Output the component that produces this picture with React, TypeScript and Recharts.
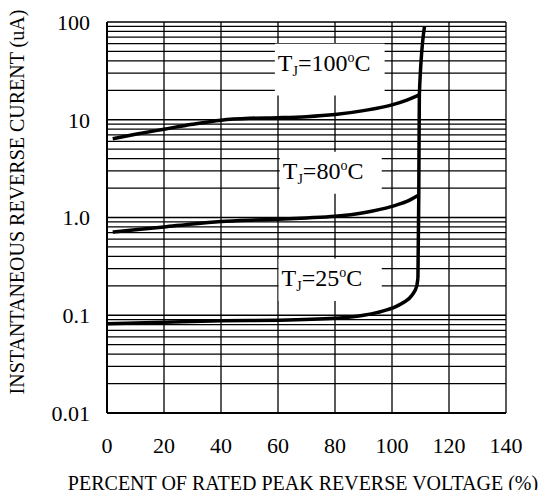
import React from 'react';
import {
  LineChart, Line, XAxis, YAxis, CartesianGrid, ReferenceArea, Label
} from 'recharts';

// x = percent of rated peak reverse voltage, y = reverse current (uA)
const curve100 = [
  { x: 2, y: 6.4 }, { x: 10, y: 7.1 }, { x: 20, y: 8.0 }, { x: 30, y: 9.0 },
  { x: 40, y: 9.9 }, { x: 50, y: 10.35 }, { x: 60, y: 10.5 }, { x: 70, y: 10.75 },
  { x: 80, y: 11.3 }, { x: 90, y: 12.4 }, { x: 100, y: 14.2 }, { x: 105, y: 15.8 },
  { x: 109.6, y: 18 },
];
const curve80 = [
  { x: 2, y: 0.71 }, { x: 10, y: 0.75 }, { x: 20, y: 0.8 }, { x: 30, y: 0.86 },
  { x: 40, y: 0.91 }, { x: 50, y: 0.94 }, { x: 60, y: 0.96 }, { x: 70, y: 0.99 },
  { x: 80, y: 1.03 }, { x: 90, y: 1.12 }, { x: 100, y: 1.3 }, { x: 105, y: 1.45 },
  { x: 109.4, y: 1.7 },
];
const curve25 = [
  { x: 0, y: 0.082 }, { x: 20, y: 0.085 }, { x: 40, y: 0.088 }, { x: 60, y: 0.089 },
  { x: 80, y: 0.093 }, { x: 90, y: 0.1 }, { x: 95, y: 0.107 }, { x: 100, y: 0.118 },
  { x: 104, y: 0.135 }, { x: 107, y: 0.16 }, { x: 108.7, y: 0.2 }, { x: 109.1, y: 0.24 },
];
const breakdown = [
  { x: 109.1, y: 0.24 }, { x: 109.4, y: 1.7 }, { x: 109.6, y: 18 }, { x: 111.4, y: 90 },
];

const xTicks = [0, 20, 40, 60, 80, 100, 120, 140];
const yGrid = [
  0.01, 0.02, 0.03, 0.04, 0.05, 0.06, 0.07, 0.08, 0.09,
  0.1, 0.2, 0.3, 0.4, 0.5, 0.6, 0.7, 0.8, 0.9,
  1, 2, 3, 4, 5, 6, 7, 8, 9,
  10, 20, 30, 40, 50, 60, 70, 80, 90, 100,
];
const yLabelValues = [0.01, 0.1, 1, 10, 100];
const yLabelText = ['0.01', '0.1', '1.0', '10', '100'];

// temperature tags: [x1, x2, y1, y2] in data units, then the temperature
const tagBoxes = [
  { x1: 58.9, x2: 97.4, y1: 17.7, y2: 60, temp: '100' },
  { x1: 60.6, x2: 96.4, y1: 1.75, y2: 4.7, temp: '80' },
  { x1: 60.2, x2: 96.4, y1: 0.14, y2: 0.38, temp: '25' },
];

const FONT = '"Liberation Serif", "Times New Roman", serif';

const tagShape = (temp: string) => (props: any) => {
  const { x, y, width, height } = props;
  return (
    <g>
      <rect x={x} y={y} width={width} height={height} fill="#fff" />
      <text x={x + 3} y={y + 27} fontFamily={FONT} fontSize={24} fill="#000">
        <tspan>T</tspan>
        <tspan fontSize={14} dy={5}>J</tspan>
        <tspan dy={-5}>={temp}</tspan>
        <tspan fontSize={14} dy={-9}>o</tspan>
        <tspan dy={9}>C</tspan>
      </text>
    </g>
  );
};

const yFmt = (v: number) => {
  const i = yLabelValues.findIndex(d => Math.abs(d - v) < v * 1e-6);
  return i >= 0 ? yLabelText[i] : '';
};

const App: React.FC = () => {
  return (
    <div style={{ margin: -8, width: 548, height: 498, background: '#fff' }}>
      <LineChart width={548} height={498} margin={{ top: 22, right: 42, bottom: 0, left: 0 }}>
        <CartesianGrid stroke="#000" strokeWidth={1.3} />
        <XAxis
          type="number" dataKey="x" domain={[0, 140]} ticks={xTicks} interval={0}
          tickLine={false} tickSize={0} tickMargin={24} height={85}
          axisLine={{ stroke: '#000', strokeWidth: 2 }}
          tick={{ fill: '#000', fontSize: 22, fontFamily: FONT }}
        >
          <Label
            content={() => (
              <text x={303} y={490} textAnchor="middle"
                fontFamily={FONT} fontSize={20} fill="#000">
                PERCENT OF RATED PEAK REVERSE VOLTAGE (%)
              </text>
            )}
          />
        </XAxis>
        <YAxis
          type="number" scale="log" domain={[0.01, 100]} ticks={yGrid} interval={0}
          allowDataOverflow tickFormatter={yFmt} width={107}
          tickLine={false} tickSize={0} tickMargin={17}
          axisLine={{ stroke: '#000', strokeWidth: 2 }}
          tick={{ fill: '#000', fontSize: 22, fontFamily: FONT }}
        >
          <Label
            content={() => (
              <text x={17} y={202} transform="rotate(-90 17 202)"
                textAnchor="middle" dominantBaseline="central"
                fontFamily={FONT} fontSize={20} fill="#000">
                INSTANTANEOUS REVERSE CURENT (uA)
              </text>
            )}
          />
        </YAxis>
        {tagBoxes.map(b => (
          <ReferenceArea key={b.temp} x1={b.x1} x2={b.x2} y1={b.y1} y2={b.y2}
            shape={tagShape(b.temp)} ifOverflow="visible" />
        ))}
        <Line data={curve100} dataKey="y" type="monotone" stroke="#000" strokeWidth={3.5}
          dot={false} isAnimationActive={false} />
        <Line data={curve80} dataKey="y" type="monotone" stroke="#000" strokeWidth={3.5}
          dot={false} isAnimationActive={false} />
        <Line data={curve25} dataKey="y" type="monotone" stroke="#000" strokeWidth={3.5}
          dot={false} isAnimationActive={false} />
        <Line data={breakdown} dataKey="y" type="monotone" stroke="#000" strokeWidth={3.5}
          dot={false} isAnimationActive={false} />
      </LineChart>
    </div>
  );
};

export default App;
